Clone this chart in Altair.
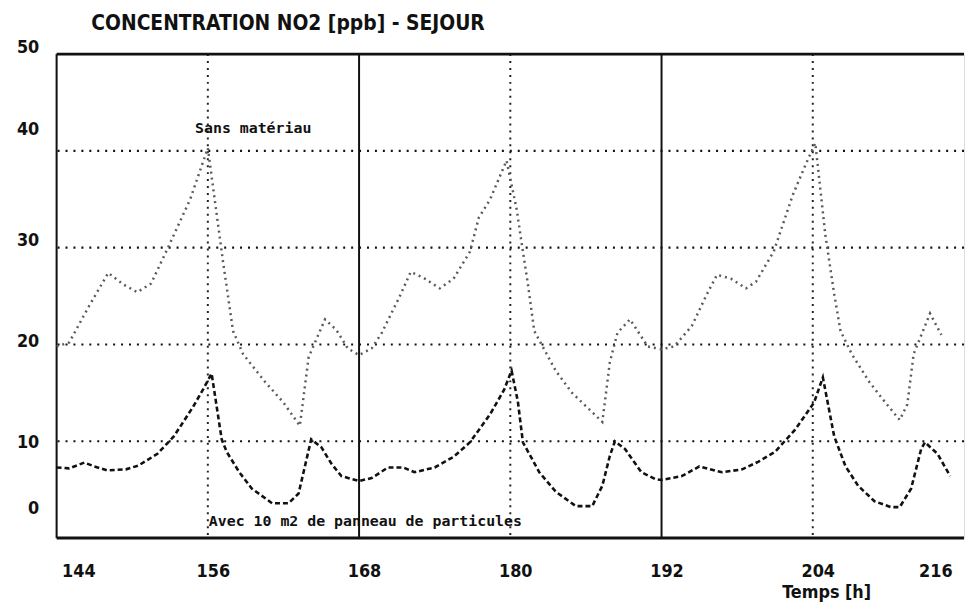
import altair as alt
import pandas as pd

# --- Data -------------------------------------------------------------------
# Upper curve: "Sans matériau"
t_sans = [144, 145, 146.5, 148.1, 149.3, 150.4, 151.5, 152.8, 154.6, 156.0,
          157.2, 158.0, 158.8, 160.5, 162.0, 163.3, 164.0, 165.3, 166.2, 167.1, 168.0,
          169.0, 169.8, 171.2, 172.1, 173.1, 174.4, 175.5, 176.8, 177.5, 178.4, 179.7,
          180.5, 181.0, 181.4, 181.9, 183.6, 184.9, 187.3, 187.7, 187.9, 188.5, 189.5,
          190.9, 192.0,
          193.0, 194.4, 195.6, 196.4, 197.5, 198.7, 199.5, 200.9, 202.4, 203.4, 204.2,
          205.0, 205.7, 206.2, 207.1, 208.5, 209.7, 210.9, 211.5, 212.0, 213.3, 214.2]
c_sans = [19.8, 20.2, 23.8, 27.4, 26.2, 25.4, 26.3, 29.9, 35.0, 40.3,
          28.6, 21.4, 19.0, 16.2, 14.0, 11.6, 18.7, 22.6, 21.5, 19.6, 18.9,
          19.6, 21.2, 24.9, 27.5, 26.9, 25.8, 26.8, 29.6, 33.1, 35.0, 39.0,
          34.0, 29.6, 26.2, 21.4, 17.3, 15.0, 12.0, 16.1, 18.2, 21.2, 22.6,
          19.8, 19.5,
          19.8, 21.9, 25.2, 27.2, 26.8, 25.8, 26.5, 29.6, 35.4, 38.5, 40.8,
          31.3, 25.2, 21.4, 19.0, 16.1, 14.1, 12.2, 13.8, 19.0, 23.2, 21.0]

# Lower curve: "Avec 10 m2 de panneau de particules"
t_avec = [144, 145, 146.2, 147, 148, 149.5, 150.5, 152, 153.3, 154.8, 155.6, 156.3,
          157.1, 157.5, 158.5, 159.5, 161.1, 162.4, 163.2, 163.7, 164.2, 165.0, 165.8,
          166.6, 168,
          169, 170.3, 171.5, 172.4, 174, 175.5, 176.8, 178.4, 179.5, 180.1, 180.6, 181,
          182.3, 183.6, 185.2, 186.5, 187.3, 187.9, 188.3, 189.1, 190.4, 191.5, 192,
          193.6, 195, 196.8, 198.4, 199.7, 201, 202.6, 204.1, 204.8, 205.7, 206.6,
          207.6, 208.9, 210.2, 210.9, 211.8, 212.6, 212.9, 213.9, 214.9]
c_avec = [7.3, 7.2, 7.8, 7.4, 7.0, 7.1, 7.5, 8.7, 10.5, 13.5, 15.3, 17.0,
          10.2, 8.9, 6.8, 5.1, 3.6, 3.6, 4.6, 7.4, 10.2, 9.4, 7.7,
          6.4, 5.9,
          6.2, 7.3, 7.3, 6.8, 7.3, 8.4, 9.9, 12.8, 15.3, 17.3, 14.1, 9.9,
          6.8, 4.8, 3.3, 3.3, 5.4, 8.5, 10.0, 9.2, 6.8, 6.1, 6.0,
          6.4, 7.4, 6.8, 7.1, 7.9, 8.9, 11.2, 14.0, 16.6, 10.5, 7.4,
          5.4, 3.8, 3.2, 3.2, 5.1, 9.2, 9.9, 8.7, 6.4]

x_ticks = [144, 156, 168, 180, 192, 204, 216]
y_ticks = [0, 10, 20, 30, 40, 50]
h_grid = [10, 20, 30, 40]
v_dotted = [156, 180, 204]
v_solid = [168, 192]

notes_label = ["Sans matériau", "Avec 10 m2 de panneau de particules"]
notes_t = [159.6, 168.5]
notes_c = [42.4, 1.75]

title_text = "CONCENTRATION NO2 [ppb] - SEJOUR"
x_title = "Temps [h]"

FONT = "DejaVu Sans Condensed"

# --- Tables -----------------------------------------------------------------
df_sans = pd.DataFrame({"t": t_sans, "c": c_sans})
df_avec = pd.DataFrame({"t": t_avec, "c": c_avec})
df_h = pd.DataFrame({"c": h_grid})
df_vd = pd.DataFrame({"t": v_dotted})
df_vs = pd.DataFrame({"t": v_solid})
df_frame_h = pd.DataFrame({"c": [0, 50]})
df_frame_v = pd.DataFrame({"t": [144]})
df_notes = pd.DataFrame({"t": notes_t, "c": notes_c, "label": notes_label})

xs = alt.Scale(domain=[144, 216], nice=False, zero=False)
ys = alt.Scale(domain=[0, 50], nice=False, zero=False)

x_axis = alt.Axis(
    values=x_ticks, grid=False, domain=False, ticks=False,
    labelFont=FONT, labelFontSize=18, labelFontWeight="bold", labelColor="#111",
    labelPadding=25,
    labelOffset={"condition": {"test": "datum.value == 216", "value": -12}, "value": 5},
    title=x_title, titleFont=FONT, titleFontSize=18, titleFontWeight="bold",
    titleColor="#111", titleX=776, titleY=55, titleAlign="center",
    titleBaseline="middle", titleAnchor="start",
)
y_axis = alt.Axis(
    values=y_ticks, grid=False, domain=False, ticks=False,
    labelFont=FONT, labelFontSize=18, labelFontWeight="bold", labelColor="#111",
    labelPadding=18, title=None,
    labelOffset={"condition": [
        {"test": "datum.value == 50", "value": -7},
        {"test": "datum.value == 40", "value": -22},
        {"test": "datum.value == 30", "value": -7},
        {"test": "datum.value == 20", "value": -3},
        {"test": "datum.value == 0", "value": -30},
    ], "value": 1},
)

hgrid = alt.Chart(df_h).mark_rule(color="#111", strokeWidth=2.2, strokeDash=[2, 6]).encode(
    y=alt.Y("c:Q", scale=ys, axis=y_axis)
)
vdot = alt.Chart(df_vd).mark_rule(color="#222", strokeWidth=2, strokeDash=[2, 5]).encode(
    x=alt.X("t:Q", scale=xs, axis=x_axis)
)
vsolid = alt.Chart(df_vs).mark_rule(color="#111", strokeWidth=2).encode(
    x=alt.X("t:Q", scale=xs)
)
frame_h = alt.Chart(df_frame_h).mark_rule(color="#111", strokeWidth=3).encode(
    y=alt.Y("c:Q", scale=ys)
)
frame_v = alt.Chart(df_frame_v).mark_rule(color="#111", strokeWidth=2).encode(
    x=alt.X("t:Q", scale=xs)
)

line_sans = alt.Chart(df_sans).mark_line(
    color="#5a5a5a", strokeWidth=2.5, strokeDash=[2, 4]
).encode(x=alt.X("t:Q", scale=xs), y=alt.Y("c:Q", scale=ys))

line_avec = alt.Chart(df_avec).mark_line(
    color="#111", strokeWidth=2.6, strokeDash=[5, 3]
).encode(x=alt.X("t:Q", scale=xs), y=alt.Y("c:Q", scale=ys))

notes = alt.Chart(df_notes).mark_text(
    font="DejaVu Sans Mono", fontWeight="bold", fontSize=15, color="#111",
    align="center", baseline="middle"
).encode(x=alt.X("t:Q", scale=xs), y=alt.Y("c:Q", scale=ys), text="label:N")

chart = alt.layer(
    hgrid, vdot, vsolid, frame_h, frame_v, line_sans, line_avec, notes
).properties(
    width=915, height=488,
    autosize=alt.AutoSizeParams(type="none"),
    padding={"left": 49, "top": 44, "right": 2, "bottom": 67},
    title=alt.TitleParams(
        title_text, anchor="start", frame="group", dx=35, offset=4,
        font=FONT, fontSize=21, fontWeight="bold", color="#111"
    ),
).configure_view(stroke=None).configure(background="white")

chart.save("out.html", embed_options={"renderer": "svg", "actions": False})
